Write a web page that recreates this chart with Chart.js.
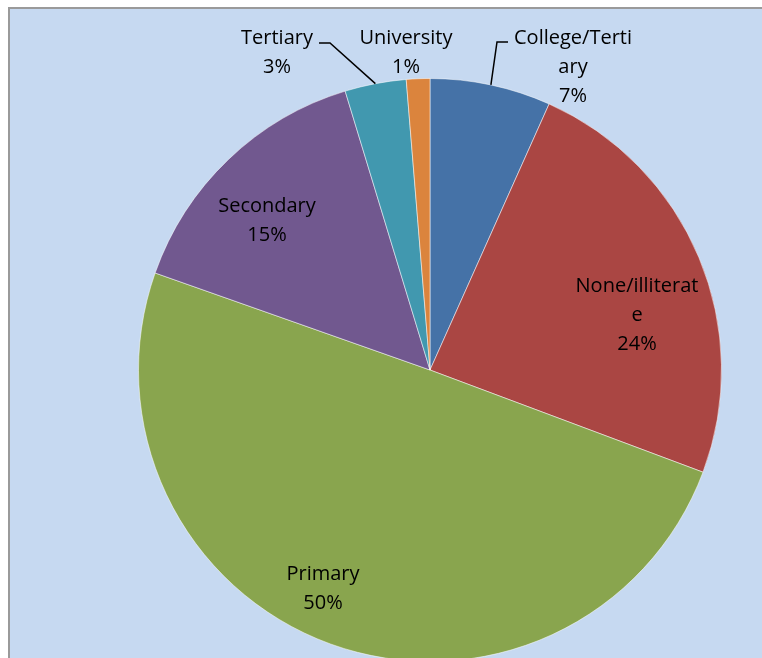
<!DOCTYPE html>
<html>
<head>
<meta charset="utf-8">
<script src="https://cdn.jsdelivr.net/npm/chart.js@4"></script>
<style>
	html, body { margin: 0; padding: 0; overflow: hidden; background: #fff; }
	#fondo { position: absolute; left: 8px; top: 7px; width: 800px; height: 700px; background: #c6d9f1; border: 2px solid #9a9a9a; }
	#box { position: absolute; left: 0; top: 0; width: 762px; height: 700px; }
</style>
</head>
<body>
<div id="fondo"></div>
<div id="box"><canvas id="grafico_torta"></canvas></div>
<script>
// dati
var categorie = ['College/Tertiary', 'None/illiterate', 'Primary', 'Secondary', 'Tertiary', 'University'];
var valori = [6.7, 24.0, 49.7, 14.9, 3.4, 1.3];
var colori = ['#4572a7', '#aa4643', '#89a54e', '#71588f', '#4198af', '#db843d'];

// righe delle etichette come vanno a capo nell'originale
var righe = [['College/Terti', 'ary'], ['None/illiterat', 'e'], ['Primary'], ['Secondary'], ['Tertiary'], ['University']];
// posizione del testo (centro prima riga)
var posEtichette = [[573, 38], [637, 286], [323, 574], [267, 206], [277, 38], [406, 38]];

var FONT = '20px "Open Sans", sans-serif';
var INTERLINEA = 29;

var etichettePlugin = {
	id: 'etichette',
	afterDatasetsDraw: function(chart) {
		var ctx = chart.ctx;
		var archi = chart.getDatasetMeta(0).data;
		var tot = valori.reduce(function(a, b) { return a + b; }, 0);
		ctx.save();

		// linee guida per le fette piccole
		ctx.strokeStyle = '#000';
		ctx.lineWidth = 1.5;
		var guide = { 0: [[497, 42], [508, 42]], 4: [[330, 43], [319, 43]] };
		Object.keys(guide).forEach(function(i) {
			var p = archi[i].getProps(['x', 'y', 'startAngle', 'endAngle', 'outerRadius']);
			var ang = p.startAngle + (p.endAngle - p.startAngle) * 0.5;
			var x0 = p.x + Math.cos(ang) * p.outerRadius;
			var y0 = p.y + Math.sin(ang) * p.outerRadius;
			ctx.beginPath();
			ctx.moveTo(x0, y0);
			guide[i].forEach(function(pt) { ctx.lineTo(pt[0], pt[1]); });
			ctx.stroke();
		});

		ctx.fillStyle = '#000';
		ctx.font = FONT;
		ctx.textAlign = 'center';
		ctx.textBaseline = 'middle';
		righe.forEach(function(r, i) {
			var testo = r.concat([Math.round(valori[i] / tot * 100) + '%']);
			testo.forEach(function(t, k) {
				ctx.fillText(t, posEtichette[i][0], posEtichette[i][1] + k * INTERLINEA);
			});
		});
		ctx.restore();
	}
};

var config_grafico_torta = {
	type: 'pie',
	data: {
		labels: categorie,
		datasets: [{
			data: valori,
			backgroundColor: colori,
			borderColor: 'rgba(255,255,255,0.5)',
			borderWidth: 1
		}]
	},
	options: {
		responsive: true,
		maintainAspectRatio: false,
		animation: false,
		layout: { padding: { left: 138, right: 40, top: 78, bottom: 38 } },
		plugins: {
			legend: { display: false },
			tooltip: { enabled: false }
		}
	},
	plugins: [etichettePlugin]
};

var ctx_1 = document.getElementById('grafico_torta').getContext('2d');
var grafico_torta = new Chart(ctx_1, config_grafico_torta);
</script>
</body>
</html>
